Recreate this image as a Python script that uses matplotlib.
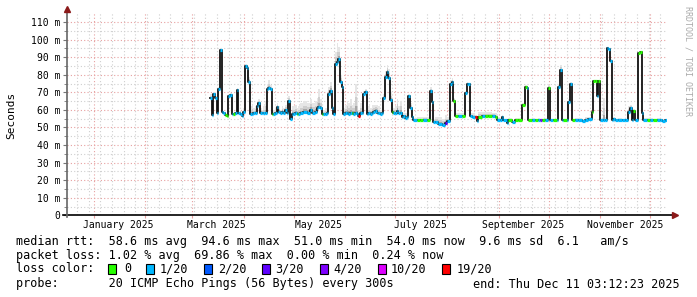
import matplotlib
matplotlib.use("Agg")
import matplotlib.pyplot as plt
import matplotlib.dates as mdates
from matplotlib.patches import Rectangle
import numpy as np
import pandas as pd

plt.rcParams["font.family"] = ["DejaVu Sans Mono"]

# graph window: 360 days ending at the "end:" timestamp
END = pd.Timestamp("2025-12-11 03:12:23")
START = END - pd.Timedelta(days=360)

# median rtt (ms) per step, loss bucket index, top of the smoke (ms)
dates = [
    "2025-03-12", "2025-03-13", "2025-03-14", "2025-03-15", "2025-03-16", "2025-03-17",
    "2025-03-18", "2025-03-19", "2025-03-20", "2025-03-21", "2025-03-22", "2025-03-23",
    "2025-03-24", "2025-03-25", "2025-03-26", "2025-03-27", "2025-03-28", "2025-03-29",
    "2025-03-30", "2025-03-31", "2025-04-01", "2025-04-02", "2025-04-03", "2025-04-04",
    "2025-04-05", "2025-04-06", "2025-04-07", "2025-04-08", "2025-04-09", "2025-04-10",
    "2025-04-11", "2025-04-12", "2025-04-13", "2025-04-14", "2025-04-15", "2025-04-16",
    "2025-04-17", "2025-04-18", "2025-04-19", "2025-04-20", "2025-04-21", "2025-04-22",
    "2025-04-23", "2025-04-24", "2025-04-25", "2025-04-26", "2025-04-27", "2025-04-28",
    "2025-04-29", "2025-04-30", "2025-05-01", "2025-05-02", "2025-05-03", "2025-05-04",
    "2025-05-05", "2025-05-07", "2025-05-09", "2025-05-11", "2025-05-12", "2025-05-14",
    "2025-05-15", "2025-05-16", "2025-05-17", "2025-05-18", "2025-05-19", "2025-05-20",
    "2025-05-21", "2025-05-22", "2025-05-23", "2025-05-24", "2025-05-25", "2025-05-26",
    "2025-05-27", "2025-05-28", "2025-05-29", "2025-05-30", "2025-05-31", "2025-06-01",
    "2025-06-02", "2025-06-03", "2025-06-04", "2025-06-05", "2025-06-06", "2025-06-07",
    "2025-06-08", "2025-06-09", "2025-06-10", "2025-06-11", "2025-06-12", "2025-06-13",
    "2025-06-14", "2025-06-15", "2025-06-16", "2025-06-17", "2025-06-18", "2025-06-19",
    "2025-06-20", "2025-06-21", "2025-06-22", "2025-06-23", "2025-06-24", "2025-06-25",
    "2025-06-26", "2025-06-27", "2025-06-28", "2025-06-29", "2025-06-30", "2025-07-01",
    "2025-07-02", "2025-07-03", "2025-07-04", "2025-07-05", "2025-07-06", "2025-07-07",
    "2025-07-08", "2025-07-09", "2025-07-10", "2025-07-11", "2025-07-12", "2025-07-14",
    "2025-07-16", "2025-07-18", "2025-07-20", "2025-07-22", "2025-07-23", "2025-07-24",
    "2025-07-25", "2025-07-27", "2025-07-29", "2025-07-31", "2025-08-01", "2025-08-03",
    "2025-08-04", "2025-08-05", "2025-08-06", "2025-08-08", "2025-08-10", "2025-08-12",
    "2025-08-13", "2025-08-14", "2025-08-15", "2025-08-16", "2025-08-18", "2025-08-19",
    "2025-08-20", "2025-08-22", "2025-08-24", "2025-08-26", "2025-08-28", "2025-08-30",
    "2025-08-31", "2025-09-02", "2025-09-03", "2025-09-04", "2025-09-06", "2025-09-07",
    "2025-09-09", "2025-09-11", "2025-09-13", "2025-09-15", "2025-09-17", "2025-09-18",
    "2025-09-19", "2025-09-21", "2025-09-23", "2025-09-25", "2025-09-26", "2025-09-27",
    "2025-09-29", "2025-10-01", "2025-10-02", "2025-10-04", "2025-10-06", "2025-10-07",
    "2025-10-08", "2025-10-09", "2025-10-10", "2025-10-12", "2025-10-13", "2025-10-14",
    "2025-10-15", "2025-10-17", "2025-10-19", "2025-10-21", "2025-10-23", "2025-10-25",
    "2025-10-27", "2025-10-28", "2025-10-29", "2025-10-30", "2025-10-31", "2025-11-01",
    "2025-11-03", "2025-11-04", "2025-11-05", "2025-11-06", "2025-11-07", "2025-11-08",
    "2025-11-09", "2025-11-10", "2025-11-12", "2025-11-14", "2025-11-16", "2025-11-18",
    "2025-11-19", "2025-11-20", "2025-11-21", "2025-11-22", "2025-11-24", "2025-11-25",
    "2025-11-26", "2025-11-27", "2025-11-29", "2025-12-01", "2025-12-03", "2025-12-05",
    "2025-12-07", "2025-12-08", "2025-12-10",
]
median_ms = [
    67, 57, 69, 67, 58.5, 72,
    94, 59, 58, 57, 56.5, 68,
    68.5, 57.5, 57.5, 58, 71.5, 58,
    57.5, 56.5, 59, 85, 84, 76,
    57.5, 57.5, 58, 58.5, 62, 64,
    58.5, 58, 58, 58.5, 72, 72.5,
    72, 57.5, 57.5, 58, 61.5, 59,
    58, 59, 58, 60, 58, 65,
    55, 57.5, 57.5, 58, 57.5, 57.5,
    58, 59, 58.5, 60, 58.5, 59,
    61, 61.5, 61, 57.5, 57.5, 57.5,
    58, 69, 71, 61, 57.5, 86,
    87, 89, 76, 73, 57.5, 58,
    58.5, 57.5, 58, 58.5, 57.5, 58,
    57.5, 56.5, 58, 58, 69, 70,
    57.5, 58, 57.5, 58, 59, 59.5,
    58.5, 58, 57.5, 58, 66.5, 79,
    81.5, 78, 65.5, 59, 58.5, 58,
    59.5, 58, 58.5, 56, 56.5, 55.5,
    56, 68, 61, 56, 54.5, 54,
    54, 54.5, 54, 71, 64.5, 53,
    53, 52, 51.5, 52.5, 53.5, 75,
    76, 65, 56.5, 56.5, 56.5, 69.5,
    75, 74.5, 56.5, 56, 56, 53.5,
    56, 56.5, 56.5, 56.5, 56.5, 56,
    54.5, 54, 56, 54, 52.5, 54.5,
    53, 54.5, 54.5, 63, 73, 72.5,
    54, 54.5, 54, 54.5, 54, 54,
    54.5, 72.5, 54, 54, 54.5, 73,
    82.5, 54, 54, 54, 64.5, 75,
    54, 54.5, 54, 53.5, 54.5, 55,
    59, 76.5, 76.5, 68, 76.5, 54,
    54, 54, 95, 94.5, 88, 54,
    55, 54, 54.5, 54, 54, 59,
    61, 54, 59.5, 54, 92.5, 93,
    58, 54.5, 54.5, 54.5, 54, 54.5,
    54, 53.5, 54,
]
loss_bucket = [
    1, 1, 1, 1, 1, 1,
    1, 1, 1, 0, 0, 1,
    1, 1, 0, 1, 1, 1,
    1, 1, 1, 1, 1, 1,
    1, 1, 1, 1, 1, 1,
    1, 1, 1, 1, 1, 1,
    1, 0, 1, 1, 1, 1,
    1, 1, 1, 1, 1, 1,
    1, 1, 1, 1, 0, 1,
    1, 1, 1, 1, 1, 1,
    1, 1, 1, 0, 1, 1,
    1, 1, 1, 1, 1, 1,
    1, 1, 1, 1, 1, 1,
    1, 1, 1, 0, 1, 1,
    1, 6, 1, 1, 1, 1,
    1, 1, 1, 1, 1, 1,
    1, 1, 1, 1, 1, 1,
    1, 1, 1, 0, 1, 1,
    1, 1, 1, 1, 1, 1,
    1, 1, 1, 1, 1, 0,
    0, 1, 0, 1, 1, 1,
    1, 1, 1, 3, 1, 1,
    1, 0, 0, 1, 0, 1,
    1, 1, 1, 1, 6, 1,
    0, 1, 0, 0, 1, 0,
    1, 1, 1, 1, 1, 0,
    1, 0, 0, 0, 0, 1,
    0, 1, 0, 1, 4, 0,
    1, 0, 1, 0, 1, 1,
    1, 1, 0, 1, 1, 1,
    0, 1, 1, 1, 1, 1,
    0, 0, 0, 1, 0, 1,
    1, 1, 1, 1, 1, 1,
    1, 1, 1, 1, 1, 1,
    1, 1, 0, 1, 0, 0,
    1, 1, 0, 1, 0, 1,
    1, 1, 1,
]
smoke_ms = [
    69, 59, 70, 68, 60, 73,
    95, 60, 59, 58, 57.5, 69,
    69.5, 58.5, 58.5, 59, 72.5, 59,
    58.5, 58, 61, 86, 85, 79,
    62, 63, 61, 62, 65, 66,
    61, 60, 62, 65, 74, 77,
    74, 60, 60, 61, 64, 62,
    60, 62, 61, 63, 63, 68,
    57, 62, 62, 63, 61, 62,
    64, 65, 64, 66, 64, 65,
    67, 72, 66, 60, 60, 61,
    63, 73, 76, 64, 62, 93,
    98, 96, 80, 76, 61, 63,
    65, 64, 66, 63, 64, 75,
    66, 60, 64, 66, 71, 72,
    61, 62, 61, 63, 63, 63,
    63, 62, 60, 61, 69, 82,
    85.5, 83, 70, 62, 61, 62,
    66, 62, 65, 59, 58, 58,
    58, 69, 64, 57, 55.5, 56,
    56, 56, 56, 73, 67, 55,
    56, 56, 55, 57, 56, 77,
    78, 67, 58, 58, 58, 71,
    76, 75.5, 58, 58, 57, 55,
    59, 59, 59, 59, 58.5, 58,
    56, 55.5, 57, 55, 54, 55.5,
    54.5, 55.5, 55.5, 64, 74, 73.5,
    55, 55.5, 55, 55.5, 55, 55,
    55.5, 74, 55, 55, 55.5, 75,
    85.5, 55, 55, 55, 66, 76,
    55, 55.5, 55.5, 55, 56, 56,
    60, 77, 77, 70, 77, 55,
    67, 56, 96, 95, 89, 55,
    56, 55, 55.5, 55, 55, 62,
    63, 55, 60.5, 55, 93, 93.5,
    59, 55.5, 55.5, 55.5, 55, 55.5,
    55, 55, 55,
]

loss_labels = ["0", "1/20", "2/20", "3/20", "4/20", "10/20", "19/20"]
loss_colors = ["#26ff00", "#00b8ff", "#0059ff", "#5e00ff", "#7e00ff", "#dd00ff", "#ff0000"]

y_ticks = [0, 10, 20, 30, 40, 50, 60, 70, 80, 90, 100, 110]
label_months = ["2025-01-01", "2025-03-01", "2025-05-01", "2025-07-01", "2025-09-01", "2025-11-01"]

rtt_line = "median rtt:  58.6 ms avg  94.6 ms max  51.0 ms min  54.0 ms now  9.6 ms sd  6.1   am/s"
loss_line = "packet loss: 1.02 % avg  69.86 % max  0.00 % min  0.24 % now"
probe_line = "probe:       20 ICMP Echo Pings (56 Bytes) every 300s"
end_line = "end: Thu Dec 11 03:12:23 2025"

W, H = 697, 297
fig = plt.figure(figsize=(W / 100, H / 100), dpi=100)
fig.patch.set_facecolor("white")
ax = fig.add_axes([67 / W, (H - 215.3) / H, 600 / W, (215.3 - 12.4) / H])
ax.set_facecolor("white")

t = pd.to_datetime(dates)
xs = mdates.date2num(list(t) + [END])
med = np.array(median_ms, dtype=float)
smk = np.array(smoke_ms, dtype=float)
m = np.append(med, med[-1])
s = np.append(smk, smk[-1])

# smoke, light to dark towards the median
for frac, col in [(1.0, "#e6e6e6"), (0.55, "#cecece"), (0.25, "#a6a6a6")]:
    ax.fill_between(xs, m - 0.4, m + frac * (s - m), step="post", color=col, lw=0, zorder=2)

ax.step(xs, m, where="post", color="#111111", lw=1.3, zorder=3)
for i in range(len(med)):
    ax.hlines(med[i], xs[i], xs[i + 1], color=loss_colors[loss_bucket[i]], lw=2.3, zorder=4)

ax.set_xlim(mdates.date2num(START), mdates.date2num(END))
ax.set_ylim(0, 115.5)

# grid
ax.set_yticks(y_ticks)
ax.set_yticks(np.arange(5, 115, 10), minor=True)
ax.set_yticklabels([("%d m" % v) if v else "0" for v in y_ticks], fontsize=7)
months = pd.date_range(START, END, freq="MS")
weeks = pd.date_range(START, END, freq="W-SUN")
ax.set_xticks(mdates.date2num(months))
ax.set_xticks(mdates.date2num(weeks), minor=True)
ax.set_xticklabels([])
ax.set_axisbelow(True)
dots = (0, (1, 2))
ax.grid(which="minor", color="#cfcfcf", lw=0.8, linestyle=dots)
ax.grid(which="major", color="#e7a0a0", lw=0.8, linestyle=dots)
ax.tick_params(axis="y", which="major", length=3, color="#777777", pad=2)
ax.tick_params(axis="y", which="minor", length=2, color="#777777")
ax.tick_params(axis="x", which="major", length=2, color="#e7a0a0")
ax.tick_params(axis="x", which="minor", length=0)

for mth in label_months:
    d = pd.Timestamp(mth)
    ax.text(mdates.date2num(d + pd.Timedelta(days=15)), -0.048, d.strftime("%B %Y"),
            transform=ax.get_xaxis_transform(), ha="center", va="center", fontsize=7)

for sp in ax.spines.values():
    sp.set_visible(False)
ax.plot([-0.006, 1.01], [0, 0], transform=ax.transAxes, color="black", lw=1.2, clip_on=False, zorder=5)
ax.plot([0, 0], [-0.01, 1.01], transform=ax.transAxes, color="#666666", lw=1.2, clip_on=False, zorder=5)
ax.plot([1.013], [0], marker=">", color="#8b1a1a", ms=5, transform=ax.transAxes, clip_on=False, zorder=6)
ax.plot([0], [1.015], marker="^", color="#8b1a1a", ms=5, transform=ax.transAxes, clip_on=False, zorder=6)

fig.text(11 / W, 1 - 115 / H, "Seconds", rotation=90, ha="center", va="center", fontsize=8)
fig.text(688 / W, 1 - 6 / H, "RRDTOOL / TOBI OETIKER", rotation=270, ha="center", va="top",
         fontsize=6, color="#aaaaaa")

fs = 8.5
fig.text(16 / W, 1 - 241 / H, rtt_line, ha="left", va="center", fontsize=fs)
fig.text(16 / W, 1 - 255 / H, loss_line, ha="left", va="center", fontsize=fs)
fig.text(16 / W, 1 - 269 / H, "loss color:", ha="left", va="center", fontsize=fs)
fig.text(16 / W, 1 - 284 / H, probe_line, ha="left", va="center", fontsize=fs)
fig.text(680 / W, 1 - 284 / H, end_line, ha="right", va="center", fontsize=fs)

box_x = [108, 146, 203.5, 262, 320, 378, 442]
text_x = [124, 160, 218, 275.5, 333, 391, 457]
for bx, tx, lab, col in zip(box_x, text_x, loss_labels, loss_colors):
    fig.patches.append(Rectangle((bx / W, 1 - 274 / H), 8 / W, 10 / H, transform=fig.transFigure,
                                 facecolor=col, edgecolor="black", lw=0.8))
    fig.text(tx / W, 1 - 269 / H, lab, ha="left", va="center", fontsize=fs)

fig.savefig("out.png", dpi=100, facecolor="white")
